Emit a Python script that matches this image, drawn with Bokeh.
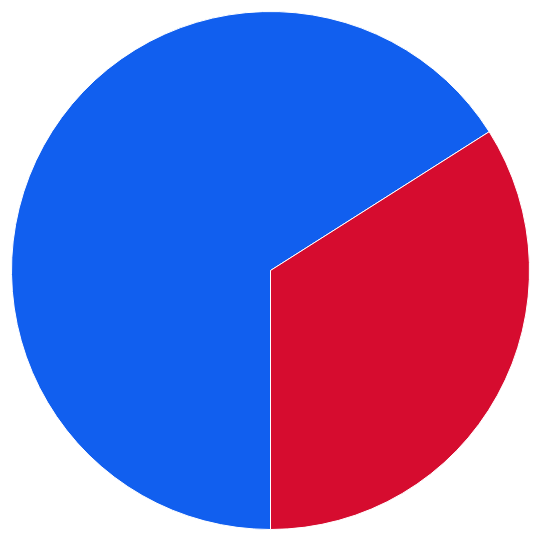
import math
from bokeh.plotting import figure
from bokeh.models import ColumnDataSource
from bokeh.embed import file_html
from bokeh.resources import INLINE

categories = ["Blue", "Red"]
values = [66, 34]
colors = ["#115FEF", "#D60C2F"]

total = sum(values)
# Red slice starts at bottom (-90 deg) and goes counterclockwise
angle = -math.pi / 2
order = [1, 0]
s = [0.0, 0.0]
e = [0.0, 0.0]
for i in order:
    a = values[i] / total * 2 * math.pi
    s[i] = angle
    e[i] = angle + a
    angle += a

src = ColumnDataSource(dict(cat=categories, val=values, start=s, end=e, color=colors))

p = figure(width=540, height=540, x_range=(-1, 1), y_range=(-1, 1),
           output_backend="svg", toolbar_location=None, min_border=0)
p.axis.visible = False
p.grid.visible = False
p.outline_line_color = None
p.background_fill_color = "white"

p.wedge(x=0, y=0, radius=259, radius_units="screen", start_angle="start", end_angle="end",
        fill_color="color", line_color="white", line_width=1, source=src)

open("out.html", "w").write(file_html(p, INLINE))
